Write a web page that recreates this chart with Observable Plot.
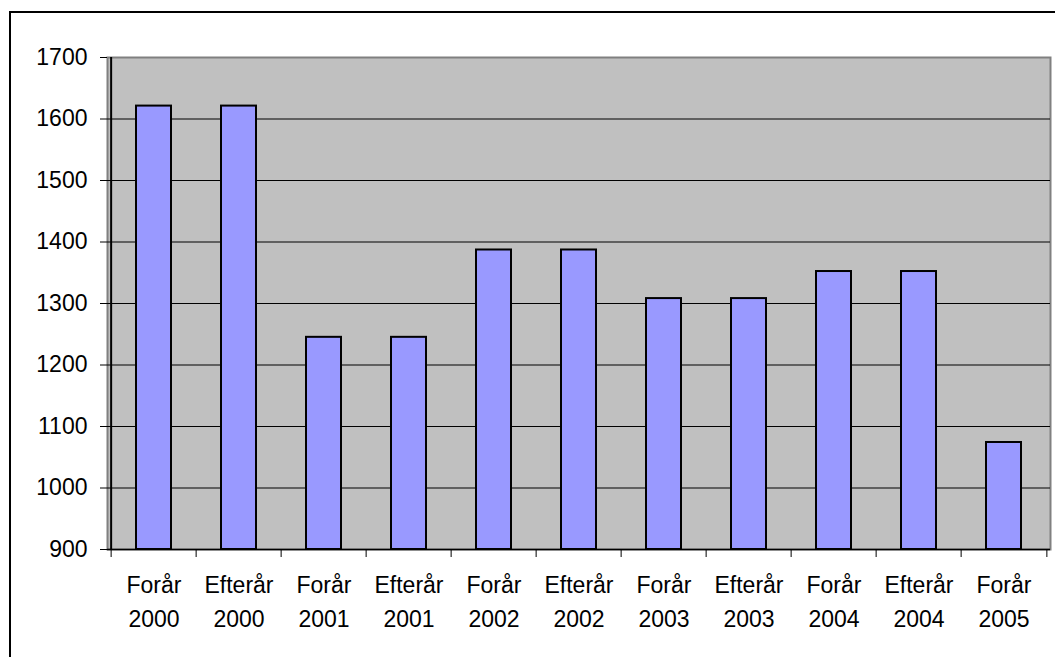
<!DOCTYPE html>
<html>
<head>
<meta charset="utf-8">
<script src="https://cdn.jsdelivr.net/npm/d3@7"></script>
<script src="https://cdn.jsdelivr.net/npm/@observablehq/plot@0.6"></script>
<style>
  html, body { margin: 0; padding: 0; background: #fff; overflow: hidden; }
  #wrap { position: relative; width: 1055px; height: 657px; }
  #border { position: absolute; left: 9px; top: 11px; width: 1100px; height: 700px; border: 2px solid #000; box-sizing: border-box; pointer-events: none; }
  #chart { position: absolute; left: 0; top: 0; }
</style>
</head>
<body>
<div id="wrap"><div id="chart"></div><div id="border"></div></div>
<script>
const categories = ["Forår 2000", "Efterår 2000", "Forår 2001", "Efterår 2001", "Forår 2002", "Efterår 2002", "Forår 2003", "Efterår 2003", "Forår 2004", "Efterår 2004", "Forår 2005"];
const values = [1621, 1621, 1245, 1245, 1387, 1387, 1308, 1308, 1352, 1352, 1074];
const yTicks = [900, 1000, 1100, 1200, 1300, 1400, 1500, 1600, 1700];
const gridTicks = [1000, 1100, 1200, 1300, 1400, 1500, 1600];

const data = categories.map((c, i) => ({cat: c, value: values[i]}));

const W = 1055, H = 657, mL = 107, mR = 5, mT = 57, mB = 108;
const step = (W - mL - mR) / categories.length;

const chart = Plot.plot({
  width: W,
  height: H,
  marginLeft: mL,
  marginRight: mR,
  marginTop: mT,
  marginBottom: mB,
  style: {fontFamily: "'Liberation Sans', Arial, sans-serif", fontSize: "23px", color: "#000", background: "transparent", overflow: "visible"},
  x: {type: "band", domain: categories, paddingInner: 0.59, paddingOuter: 0.295, label: null},
  y: {domain: [900, 1700], label: null},
  marks: [
    Plot.frame({fill: "#C0C0C0", stroke: "#808080", strokeWidth: 2}),
    Plot.gridY(gridTicks, {stroke: "#000", strokeOpacity: 1, strokeWidth: 1}),
    Plot.barY(data, {x: "cat", y1: 900, y2: "value", fill: "#9999FF", stroke: "#000", strokeWidth: 2}),
    Plot.ruleX([categories[0]], {dx: -step / 2, stroke: "#000", strokeWidth: 2}),
    Plot.ruleY([900], {stroke: "#000", strokeWidth: 1.5}),
    Plot.axisY(yTicks, {tickSize: 7, tickPadding: 13, fontSize: 23, stroke: "#000", tickFormat: d => String(d)}),
    Plot.axisX({tickSize: 8, dx: -step / 2, text: null, stroke: "#000"}),
    Plot.axisX([categories[categories.length - 1]], {tickSize: 8, dx: step / 2, text: null, stroke: "#000"}),
    Plot.axisX({tickSize: 0, tickPadding: 19, fontSize: 23, lineHeight: 1.48, tickFormat: d => d.replace(" ", "\n")})
  ]
});
document.getElementById("chart").appendChild(chart);
</script>
</body>
</html>
